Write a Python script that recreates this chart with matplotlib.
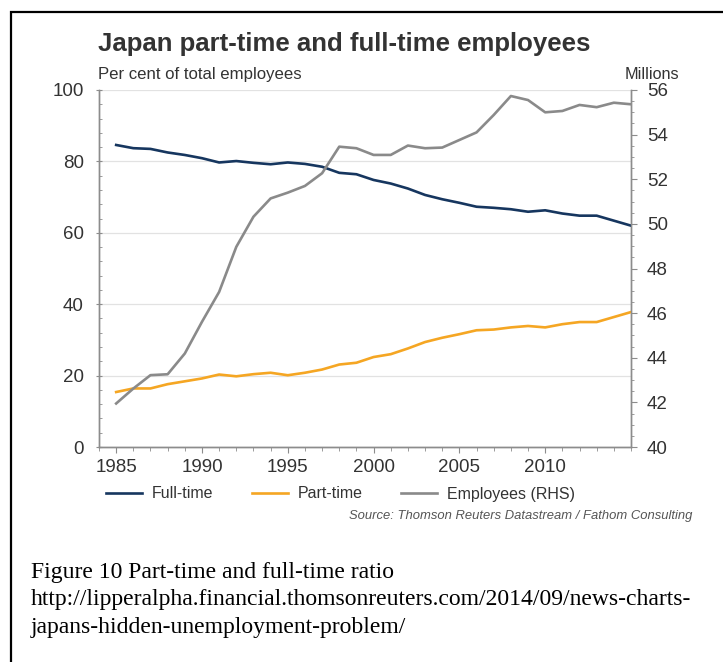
import matplotlib
matplotlib.use("Agg")
import matplotlib.pyplot as plt
from matplotlib.ticker import MultipleLocator
from matplotlib.lines import Line2D
from matplotlib.patches import Rectangle

plt.rcParams['font.family'] = ['Liberation Sans', 'DejaVu Sans']

years = list(range(1985, 2016))
full_time = [84.6, 83.7, 83.5, 82.5, 81.8, 80.9, 79.7, 80.1, 79.6, 79.2,
             79.7, 79.3, 78.5, 76.8, 76.4, 74.8, 73.8, 72.4, 70.6, 69.4,
             68.4, 67.3, 67.0, 66.6, 65.9, 66.3, 65.4, 64.8, 64.8, 63.4, 62.0]
part_time = [15.4, 16.4, 16.4, 17.6, 18.4, 19.2, 20.3, 19.8, 20.4, 20.8,
             20.1, 20.8, 21.7, 23.1, 23.6, 25.2, 26.0, 27.6, 29.4, 30.6,
             31.6, 32.7, 32.9, 33.5, 33.9, 33.5, 34.4, 35.0, 35.0, 36.4, 37.8]
employees = [41.95, 42.62, 43.22, 43.26, 44.19, 45.61, 46.95, 48.97, 50.32, 51.14,
             51.40, 51.70, 52.27, 53.46, 53.39, 53.09, 53.09, 53.51, 53.39, 53.42,
             53.76, 54.10, 54.88, 55.73, 55.55, 55.00, 55.06, 55.33, 55.23, 55.43, 55.36]

navy = '#16365f'
orange = '#f5a623'
grey = '#8a8a8a'
axis_grey = '#8c8c8c'
text_dark = '#333333'

W, H = 723, 662
fig = plt.figure(figsize=(W / 100, H / 100), dpi=100)


def fx(px):
    return px / W


def fy(py):
    return 1 - py / H


ax = fig.add_axes([fx(99), fy(447), fx(631) - fx(99), fy(90) - fy(447)])
ax2 = ax.twinx()

ax.plot(years, full_time, color=navy, lw=1.9, zorder=3)
ax.plot(years, part_time, color=orange, lw=1.9, zorder=3)
ax2.plot(years, employees, color=grey, lw=1.9, zorder=3)

ax.set_xlim(1984, 2015)
ax.set_ylim(0, 100)
ax2.set_ylim(40, 56)

ax.set_xticks(range(1985, 2015, 5))
ax.xaxis.set_minor_locator(MultipleLocator(1))
ax.yaxis.set_major_locator(MultipleLocator(20))
ax.yaxis.set_minor_locator(MultipleLocator(4))
ax2.yaxis.set_major_locator(MultipleLocator(2))
ax2.yaxis.set_minor_locator(MultipleLocator(0.5))

ax.grid(axis='y', color='#e2e2e2', lw=0.9, zorder=0)
ax.set_axisbelow(True)

for a in (ax, ax2):
    for s in a.spines.values():
        s.set_color(axis_grey)
        s.set_linewidth(1.0)
    a.spines['top'].set_visible(False)

ax.tick_params(axis='x', which='major', direction='out', length=4, color=axis_grey,
               labelsize=13.5, labelcolor=text_dark, pad=5)
ax.tick_params(axis='x', which='minor', direction='out', length=3, color=axis_grey)
ax.tick_params(axis='y', which='major', direction='inout', length=5, color=axis_grey,
               labelsize=13.5, labelcolor=text_dark, pad=8.5)
ax.tick_params(axis='y', which='minor', direction='in', length=2.5, color=axis_grey)
ax2.tick_params(axis='y', which='major', direction='out', length=4, color=axis_grey,
                labelsize=13.5, labelcolor=text_dark, pad=7.5)
ax2.tick_params(axis='y', which='minor', direction='out', length=2.5, color=axis_grey)

# frame around the whole picture (only top and left edges visible)
fig.patches.append(Rectangle((fx(11), fy(H + 20)), fx(W + 20), fy(12) - fy(H + 20),
                             transform=fig.transFigure, fill=False,
                             edgecolor='black', lw=1.6))

fig.text(fx(98), fy(51), 'Japan part-time and full-time employees', fontsize=18.5,
         fontweight='bold', color=text_dark, va='baseline')
fig.text(fx(98), fy(79), 'Per cent of total employees', fontsize=12.1,
         color=text_dark, va='baseline')
fig.text(fx(679), fy(79), 'Millions', fontsize=11.7, color=text_dark,
         va='baseline', ha='right')

handles = [Line2D([], [], color=navy, lw=1.9),
           Line2D([], [], color=orange, lw=1.9),
           Line2D([], [], color=grey, lw=1.9)]
fig.legend(handles, ['Full-time', 'Part-time', 'Employees (RHS)'],
           loc='center left', bbox_to_anchor=(fx(92), fy(494)), ncol=3,
           frameon=False, fontsize=11.5, handlelength=2.25, handletextpad=0.62,
           columnspacing=2.4, labelcolor=text_dark)

fig.text(fx(692), fy(519), 'Source: Thomson Reuters Datastream / Fathom Consulting',
         fontsize=9.4, style='italic', color='#555555', ha='right', va='baseline')

cap_font = ['Liberation Serif', 'DejaVu Serif']
caption = ['Figure 10 Part-time and full-time ratio',
           'http://lipperalpha.financial.thomsonreuters.com/2014/09/news-charts-',
           'japans-hidden-unemployment-problem/']
for i, line in enumerate(caption):
    fig.text(fx(31), fy(578 + 27.5 * i), line, fontsize=17, family=cap_font,
             color='black', va='baseline')

fig.savefig('out.png', dpi=100, facecolor='white')
